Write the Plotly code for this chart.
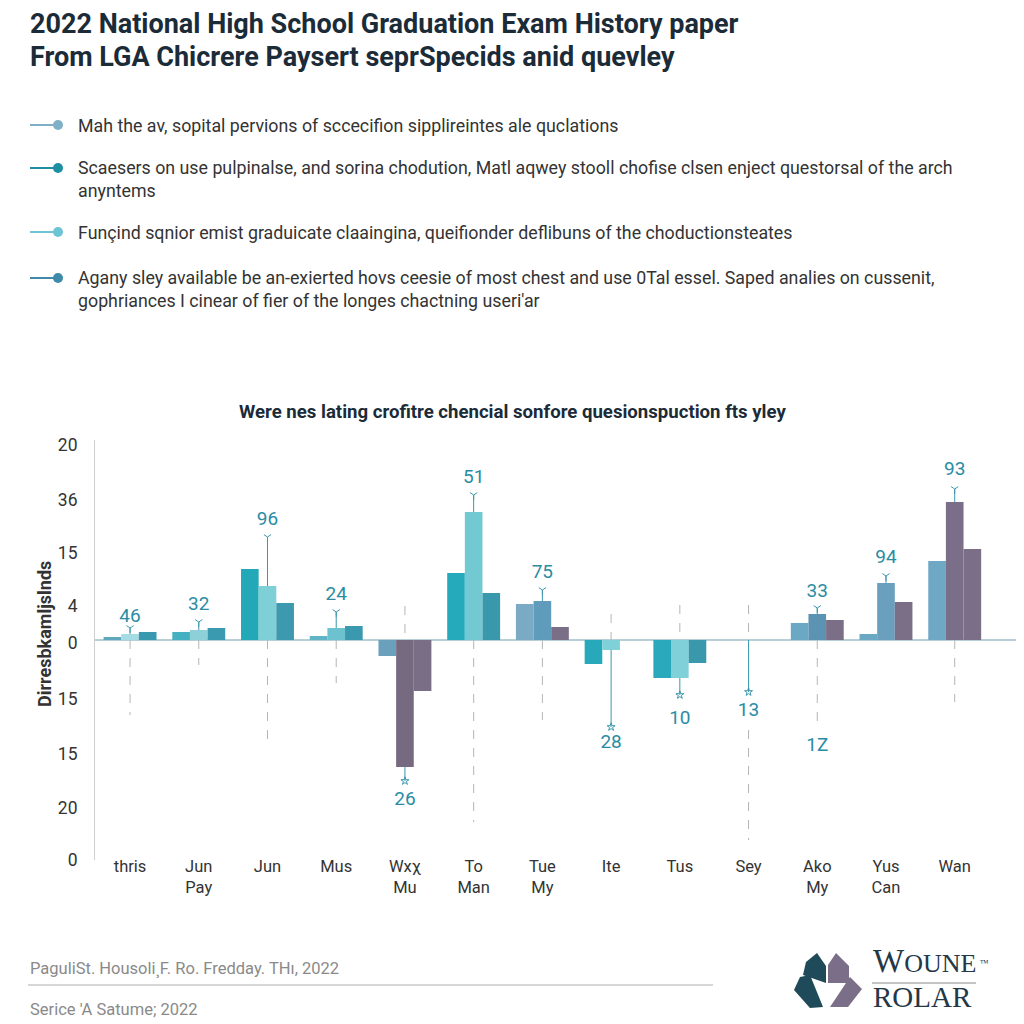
import plotly.graph_objects as go

# ---------------- data ----------------
categories = ["thris", "Jun<br>Pay", "Jun", "Mus", "Wxχ<br>Mu", "To<br>Man", "Tue<br>My",
              "Ite", "Tus", "Sey", "Ako<br>My", "Yus<br>Can", "Wan"]
series_a = [0.3, 0.8, 7.1, 0.4, -1.6, 6.7, 3.6, -2.4, -3.8, 0, 1.7, 0.6, 7.9]
series_b = [0.6, 1.0, 5.4, 1.2, -12.7, 12.8, 3.9, -1.0, -3.8, 0, 2.6, 5.7, 13.8]
series_c = [0.8, 1.2, 3.7, 1.4, -5.1, 4.7, 1.3, 0, -2.3, 0, 2.0, 3.8, 9.1]
whisker_tip = [1.2, 1.8, 10.3, 2.8, -14.1, 14.5, 5.0, -8.7, -5.5, -5.2, 3.2, 6.4, 15.1]
label_cat = [0, 1, 2, 3, 4, 5, 6, 7, 8, 9, 10, 10, 11, 12]
label_y = [2.3, 3.5, 12.0, 4.5, -16.0, 16.2, 6.7, -10.3, -7.9, -7.1, 4.8, -10.6, 8.2, 17.0]
label_text = ["46", "32", "96", "24", "26", "51", "75", "28", "10", "13", "33", "1Z", "94", "93"]
dash_cat = [0, 1, 2, 3, 4, 5, 6, 7, 8, 9, 9, 10, 12]
dash_from = [0, 0, 0, 0, 3.4, 0, 0, 2.6, 3.5, 3.5, -9.0, 0, 0]
dash_to = [-7.5, -2.5, -10.8, -4.3, 0, -18.2, -8.0, 0, 0, 0, -20.0, -8.8, -6.2]
y_tick_vals = [19.5, 14, 8.7, 3.4, -0.3, -5.9, -11.4, -16.8, -22]
y_tick_text = ["20", "36", "15", "4", "0", "15", "15", "20", "0"]

colors_a = ["#5fa7bd", "#45b0c0", "#23a8b8", "#5fb5c5", "#6aa0bc", "#25aabb", "#7aaac4",
            "#27a9bb", "#29a9bb", "#29a9bb", "#6aa8c3", "#6aa8c3", "#6ea8c4"]
colors_b = ["#a5dbe3", "#8dd0d8", "#7ecfd6", "#6cc3cf", "#766a80", "#72c9d2", "#5f9cbc",
            "#7fd0d8", "#7fd0d8", "#7fd0d8", "#5c92b2", "#6a9fbd", "#7a6e89"]
colors_c = ["#3a99ae", "#3a9ab0", "#3c99ae", "#3a99ae", "#7a6d86", "#3a98ad", "#7b6f87",
            "#3a98ad", "#3a98ad", "#3a98ad", "#7b6f87", "#7b6f87", "#7b6f87"]

# ---------------- geometry helpers (page pixels -> paper) ----------------
OFF = 8  # page body margin
L, R, T, B = 95, 1020, 440, 860
def px(x):
    return (x - L) / (R - L)
def py(y):
    return (B - y) / (B - T)

xs = list(range(len(categories)))
fig = go.Figure()
for vals, cols in [(series_a, colors_a), (series_b, colors_b), (series_c, colors_c)]:
    fig.add_trace(go.Bar(x=xs, y=vals, marker=dict(color=cols, line=dict(width=0)),
                         showlegend=False, hoverinfo="skip"))

# dashed guide lines
dx, dy = [], []
for c, a, b in zip(dash_cat, dash_from, dash_to):
    dx += [c, c, None]
    dy += [a, b, None]
fig.add_trace(go.Scatter(x=dx, y=dy, mode="lines", line=dict(color="#b5b5b5", width=1, dash="dash"),
                         showlegend=False, hoverinfo="skip"))

# whiskers
wx, wy = [], []
for i, (base, tip) in enumerate(zip(series_b, whisker_tip)):
    wx += [i, i, None]
    wy += [base, tip, None]
fig.add_trace(go.Scatter(x=wx, y=wy, mode="lines", line=dict(color="#3a97ad", width=1),
                         showlegend=False, hoverinfo="skip"))
fig.add_trace(go.Scatter(x=xs, y=whisker_tip, mode="markers",
                         marker=dict(symbol=["y-down-open" if t > 0 else "star-open" for t in whisker_tip],
                                     size=6, color="#3a97ad", line=dict(width=1, color="#3a97ad")),
                         showlegend=False, hoverinfo="skip"))

# value labels
fig.add_trace(go.Scatter(x=label_cat, y=label_y, mode="text", text=label_text,
                         textfont=dict(family="Roboto", size=19, color="#2a8ca3"),
                         showlegend=False, hoverinfo="skip"))

fig.update_layout(
    width=1024, height=1024,
    margin=dict(l=L - OFF, r=1024 - (R - OFF), t=T - OFF, b=1024 - (B - OFF)),
    paper_bgcolor="white", plot_bgcolor="white",
    barmode="group", bargap=0.23, bargroupgap=0,
    font=dict(family="Roboto", color="#333"),
    xaxis=dict(tickmode="array", tickvals=xs, ticktext=categories, range=[-0.51, 12.95],
               showgrid=False, zeroline=False, showline=False, ticks="", ticklabelstandoff=-6,
               tickfont=dict(size=16.5, color="#333")),
    yaxis=dict(range=[-22, 20], tickmode="array", tickvals=y_tick_vals, ticktext=y_tick_text,
               showgrid=False, zeroline=True, zerolinecolor="#b8cfd8", zerolinewidth=1.5,
               showline=True, linecolor="#cfcfcf", linewidth=1, ticks="", ticklabelstandoff=13,
               tickfont=dict(size=17.5, color="#333")),
)

ann = []
def text(x, y, s, size, color="#333", bold=False, xanchor="left", family="Roboto", angle=0):
    ann.append(dict(x=px(x), y=py(y), xref="paper", yref="paper", text=("<b>%s</b>" % s) if bold else s,
                    showarrow=False, xanchor=xanchor, yanchor="middle", textangle=angle, align="left",
                    font=dict(size=size, color=color, family=family)))

text(28, 24, "2022 National High School Graduation Exam History paper", 27, "#1b2b38", True)
text(28, 57, "From LGA Chicrere Paysert seprSpecids anid quevley", 27, "#1b2b38", True)

legend_items = [
    (125, "Mah the av, sopital pervions of sccecifion sipplireintes ale quclations", "#7fb0c8"),
    (179, "Scaesers on use pulpinalse, and sorina chodution, Matl aqwey stooll chofise clsen enject questorsal of the arch<br>anyntems", "#1e8ea3"),
    (232, "Funçind sqnior emist graduicate claaingina, queifionder deflibuns of the choductionsteates", "#6cc4d4"),
    (289, "Agany sley available be an-exierted hovs ceesie of most chest and use 0Tal essel. Saped analies on cussenit,<br>gophriances I cinear of fier of the longes chactning useri'ar", "#3f8aa8"),
]
shapes = []
for yc, s, col in legend_items:
    text(76, yc, s, 17.8, "#333")
    iy = yc - 11 if "<br>" in s else yc
    shapes.append(dict(type="line", xref="paper", yref="paper", x0=px(30), x1=px(56), y0=py(iy), y1=py(iy),
                       line=dict(color=col, width=2)))
    shapes.append(dict(type="circle", xref="paper", yref="paper", x0=px(53), x1=px(63),
                       y0=py(iy - 5), y1=py(iy + 5), fillcolor=col, line=dict(width=0)))

text(512, 412, "Were nes lating crofitre chencial sonfore quesionspuction fts yley", 18.6, "#1b2b38", True, "center")
text(44, 634, "Dirresbkamljslnds", 18, "#333", True, "center", angle=-90)

text(28, 968, "PaguliSt. Housoli¸F. Ro. Fredday. THı, 2022", 16.5, "#8a8a8a")
text(28, 1009, "Serice 'A Satume; 2022", 16.5, "#8a8a8a")
shapes.append(dict(type="line", xref="paper", yref="paper", x0=px(28), x1=px(713), y0=py(985), y1=py(985),
                   line=dict(color="#c8c8c8", width=1.5)))

def poly(points, color):
    d = "M " + " L ".join("%f,%f" % (px(x), py(y)) for x, y in points) + " Z"
    shapes.append(dict(type="path", xref="paper", yref="paper", path=d, fillcolor=color, line=dict(width=0)))

poly([(817, 953), (826, 966), (826, 983), (803, 975), (806, 962)], "#1f4a5a")
poly([(836, 953), (849, 966), (849, 983), (828, 983), (828, 965)], "#7a6e88")
poly([(800, 977), (810, 975), (823, 1007), (810, 1008), (794, 990)], "#1f4a5a")
poly([(850, 977), (862, 989), (848, 1007), (830, 1007)], "#7a6e88")
ann.append(dict(x=px(871), y=py(981), xref="paper", yref="paper",
                text="W<span style='font-size:26px'>OUNE</span>", showarrow=False,
                xanchor="left", yanchor="bottom", font=dict(size=33, color="#243848", family="Liberation Serif")))
ann.append(dict(x=px(978), y=py(963), xref="paper", yref="paper", text="™", showarrow=False,
                xanchor="left", yanchor="middle", font=dict(size=9, color="#243848", family="Liberation Serif")))
text(871, 997, "ROLAR", 29, "#243848", False, family="Liberation Serif")
shapes.append(dict(type="line", xref="paper", yref="paper", x0=px(872), x1=px(976), y0=py(983), y1=py(983),
                   line=dict(color="#8a8a8a", width=1)))

fig.update_layout(annotations=ann, shapes=shapes)
fig.write_html("out.html")
